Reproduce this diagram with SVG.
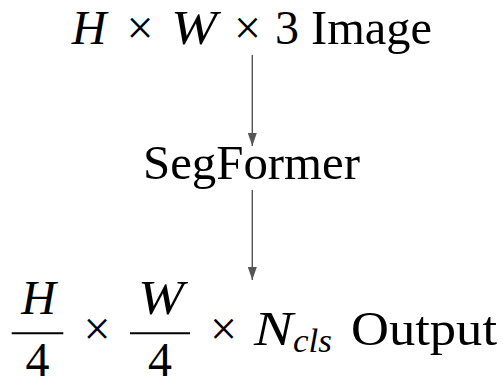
<svg xmlns="http://www.w3.org/2000/svg" width="503" height="379" viewBox="0 0 503 379">
<style>
.t{font-family:"Liberation Serif","Times New Roman",serif;font-size:48px;fill:#000}
.i{font-style:italic}
.m{text-anchor:middle}
.sub{font-size:33px}
.bar{stroke:#000;stroke-width:1.9}
.conn{stroke:#555;stroke-width:1.4;fill:none}
</style>
<defs>
<marker id="ah" markerUnits="userSpaceOnUse" markerWidth="14" markerHeight="10" refX="13" refY="4.5" orient="auto">
<path d="M0,0 L13,4.5 L0,9 z" fill="#555"/>
</marker>
</defs>
<rect width="503" height="379" fill="#fff"/>
<g id="connectors">
<line class="conn" x1="252.3" y1="55" x2="252.3" y2="146" marker-end="url(#ah)"/>
<line class="conn" x1="252.3" y1="190" x2="252.3" y2="280" marker-end="url(#ah)"/>
</g>
<g id="input">
<text class="t i m" x="89" y="44">H</text>
<text class="t m" x="140" y="44">×</text>
<text class="t i m" x="194" y="44" textLength="46" lengthAdjust="spacingAndGlyphs">W</text>
<text class="t m" x="247.5" y="44">×</text>
<text class="t m" x="287" y="44">3</text>
<text class="t" x="311" y="44" textLength="121" lengthAdjust="spacingAndGlyphs">Image</text>
</g>
<g id="segformer">
<text class="t" x="143" y="179" textLength="217" lengthAdjust="spacingAndGlyphs">SegFormer</text>
</g>
<g id="output">
<text class="t i m" x="38.5" y="314">H</text>
<line class="bar" x1="11.7" y1="333.3" x2="63.3" y2="333.3"/>
<text class="t m" x="37.5" y="375.5">4</text>
<text class="t m" x="97" y="345">×</text>
<text class="t i m" x="161" y="314" textLength="46" lengthAdjust="spacingAndGlyphs">W</text>
<line class="bar" x1="130" y1="333.3" x2="190" y2="333.3"/>
<text class="t m" x="160" y="375.5">4</text>
<text class="t m" x="223.5" y="345">×</text>
<text class="t i" x="254" y="345" textLength="39" lengthAdjust="spacingAndGlyphs">N</text>
<text class="t i sub" x="293" y="352" textLength="39" lengthAdjust="spacingAndGlyphs">cls</text>
<text class="t" x="351" y="345" textLength="146" lengthAdjust="spacingAndGlyphs">Output</text>
</g>
</svg>
